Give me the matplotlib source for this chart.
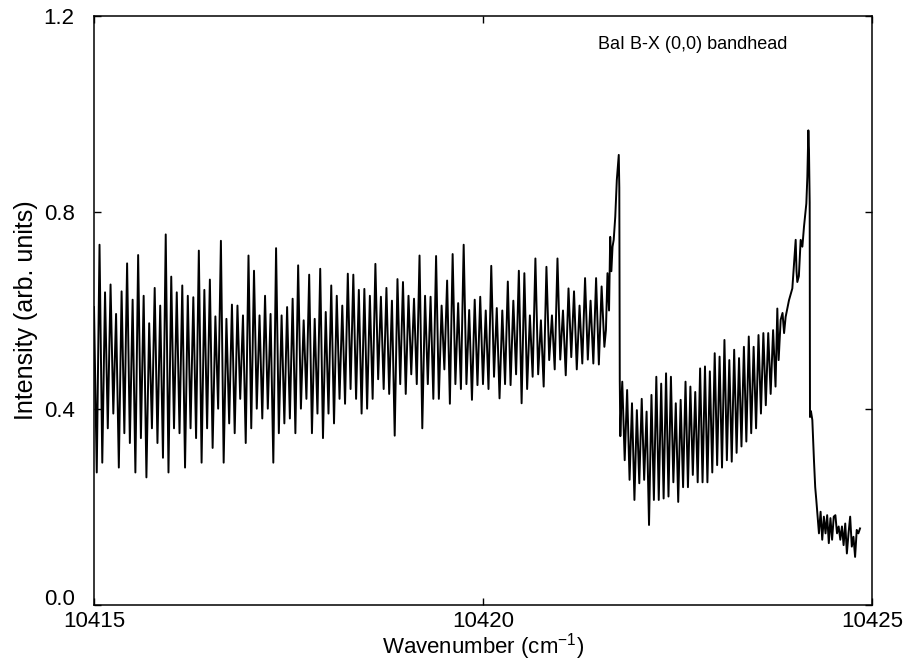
import numpy as np
import matplotlib.pyplot as plt

plt.rcParams.update({
    'font.family': ['Liberation Sans', 'DejaVu Sans'],
    'axes.linewidth': 1.1,
    'xtick.major.width': 1.0,
    'ytick.major.width': 1.0,
})

# --- data ---
# left P/R band (10415.0 - 10421.56): alternating line tops and valleys
band1_tops = [
    0.607, 0.734, 0.637, 0.653, 0.593, 0.639, 0.696, 0.622, 0.713, 0.630,
    0.574, 0.646, 0.610, 0.755, 0.669, 0.637, 0.651, 0.630, 0.627, 0.722,
    0.642, 0.663, 0.588, 0.742, 0.583, 0.612, 0.610, 0.590, 0.712, 0.681,
    0.590, 0.630, 0.593, 0.727, 0.590, 0.607, 0.624, 0.692, 0.580, 0.673,
    0.583, 0.685, 0.597, 0.651, 0.630, 0.610, 0.675, 0.673, 0.642, 0.644,
    0.630, 0.695, 0.628, 0.646, 0.620, 0.664, 0.658, 0.630, 0.624, 0.712,
    0.630, 0.628, 0.711, 0.610, 0.661, 0.715, 0.615, 0.734,
    0.601, 0.622, 0.628, 0.600, 0.691, 0.605, 0.600, 0.659, 0.620, 0.681,
    0.676, 0.590, 0.706, 0.580, 0.689, 0.590, 0.706, 0.600, 0.645, 0.639,
    0.610, 0.666, 0.620, 0.666, 0.649]
band1_valleys = [
    0.27, 0.29, 0.36, 0.39, 0.28, 0.35, 0.33, 0.27, 0.34, 0.26,
    0.36, 0.33, 0.30, 0.27, 0.36, 0.35, 0.28, 0.36, 0.34, 0.29,
    0.36, 0.32, 0.40, 0.29, 0.37, 0.35, 0.42, 0.33, 0.36, 0.40,
    0.38, 0.40, 0.29, 0.35, 0.37, 0.38, 0.35, 0.40, 0.42, 0.35,
    0.39, 0.34, 0.39, 0.37, 0.42, 0.41, 0.44, 0.42, 0.39, 0.40,
    0.42, 0.46, 0.44, 0.43, 0.345, 0.45, 0.43, 0.47, 0.45, 0.36,
    0.45, 0.42, 0.42, 0.48, 0.41, 0.45, 0.44, 0.45,
    0.418, 0.448, 0.45, 0.44, 0.465, 0.421, 0.45, 0.448, 0.47, 0.411,
    0.44, 0.465, 0.47, 0.445, 0.499, 0.48, 0.50, 0.468, 0.505, 0.48,
    0.492, 0.50, 0.492, 0.49, 0.526]

# first bandhead
head1_wn = [10421.58, 10421.60, 10421.62, 10421.635, 10421.65, 10421.665,
            10421.68, 10421.70, 10421.72, 10421.745, 10421.752, 10421.758,
            10421.765, 10421.775]
head1_int = [0.56, 0.676, 0.600, 0.750, 0.680, 0.730, 0.744, 0.791, 0.866,
             0.917, 0.850, 0.458, 0.344, 0.400]

# right band (10421.79 - 10423.76)
band2_tops = [
    0.455, 0.438, 0.411, 0.397, 0.420, 0.394, 0.428, 0.465, 0.451, 0.472,
    0.465, 0.411, 0.418, 0.455, 0.445, 0.434, 0.482, 0.486, 0.476, 0.513,
    0.506, 0.540, 0.499, 0.520, 0.503, 0.526, 0.547, 0.526, 0.550, 0.554,
    0.554, 0.560]
band2_valleys = [
    0.295, 0.255, 0.214, 0.248, 0.255, 0.163, 0.214, 0.214, 0.217, 0.221,
    0.250, 0.210, 0.240, 0.240, 0.265, 0.250, 0.250, 0.250, 0.270, 0.285,
    0.280, 0.295, 0.292, 0.310, 0.323, 0.333, 0.350, 0.360, 0.390, 0.407,
    0.430, 0.445]

# second bandhead
head2_wn = [10423.783, 10423.80, 10423.826, 10423.85, 10423.87, 10423.89,
            10423.933, 10423.976, 10424.00, 10424.019, 10424.03, 10424.04,
            10424.06, 10424.083, 10424.105, 10424.126, 10424.156, 10424.169,
            10424.182, 10424.19, 10424.199, 10424.203, 10424.215, 10424.233,
            10424.254, 10424.270, 10424.284]
head2_int = [0.604, 0.499, 0.581, 0.595, 0.554, 0.587, 0.621, 0.645, 0.700,
             0.744, 0.680, 0.658, 0.670, 0.744, 0.730, 0.771, 0.818, 0.872,
             0.967, 0.927, 0.820, 0.383, 0.395, 0.377, 0.295, 0.240, 0.214]

# baseline tail past the head
tail_int = [0.187, 0.146, 0.190, 0.133, 0.180, 0.146, 0.183, 0.126, 0.177,
            0.133, 0.180, 0.183, 0.146, 0.160, 0.133, 0.160, 0.122, 0.166,
            0.105, 0.146, 0.180, 0.119, 0.139, 0.098, 0.153, 0.146, 0.156]

xticks = [10415, 10420, 10425]
xtick_labels = ['10415', '10420', '10425']
yticks = [0.0, 0.4, 0.8, 1.2]
ytick_labels = ['0.0', '0.4', '0.8', '1.2']


def interleave(tops, valleys):
    y = np.empty(2 * len(tops))
    y[0::2] = tops
    y[1::2] = valleys
    return y


band1 = interleave(band1_tops, band1_valleys)
band1_wn = np.linspace(10415.0, 10421.56, len(band1))
band2 = interleave(band2_tops, band2_valleys)
band2_wn = np.linspace(10421.79, 10423.76, len(band2))
tail_wn = np.linspace(10424.297, 10424.846, len(tail_int))

wn = np.concatenate([band1_wn, head1_wn, band2_wn, head2_wn, tail_wn])
inten = np.concatenate([band1, head1_int, band2, head2_int, tail_int])

fig = plt.figure(figsize=(9.07, 6.64), dpi=100)
ax = fig.add_axes([94/907, 1 - 605/664, 778/907, 589/664])
ax.plot(wn, inten, color='black', lw=1.4)

ax.set_xlim(10415, 10425)
ax.set_ylim(0, 1.2)
ax.set_xticks(xticks)
ax.set_xticklabels(xtick_labels)
ax.set_yticks(yticks)
ax.set_yticklabels(ytick_labels)
ax.tick_params(direction='in', length=5, top=True, right=True, labelsize=16)
ax.tick_params(axis='y', pad=14)
ax.tick_params(axis='x', pad=4)
# the "0.0" label sits on the axis line, above the 10415 label
ax.get_yticklabels()[0].set_va('baseline')

ax.set_xlabel(r'Wavenumber (cm$\mathregular{^{-1}}$)', fontsize=16, labelpad=0)
ax.set_ylabel('Intensity (arb. units)', fontsize=18, labelpad=4)
ax.text(0.648, 0.951, 'BaI B-X (0,0) bandhead', transform=ax.transAxes,
        fontsize=13, va='center', ha='left')

fig.savefig('out.png', dpi=100)
